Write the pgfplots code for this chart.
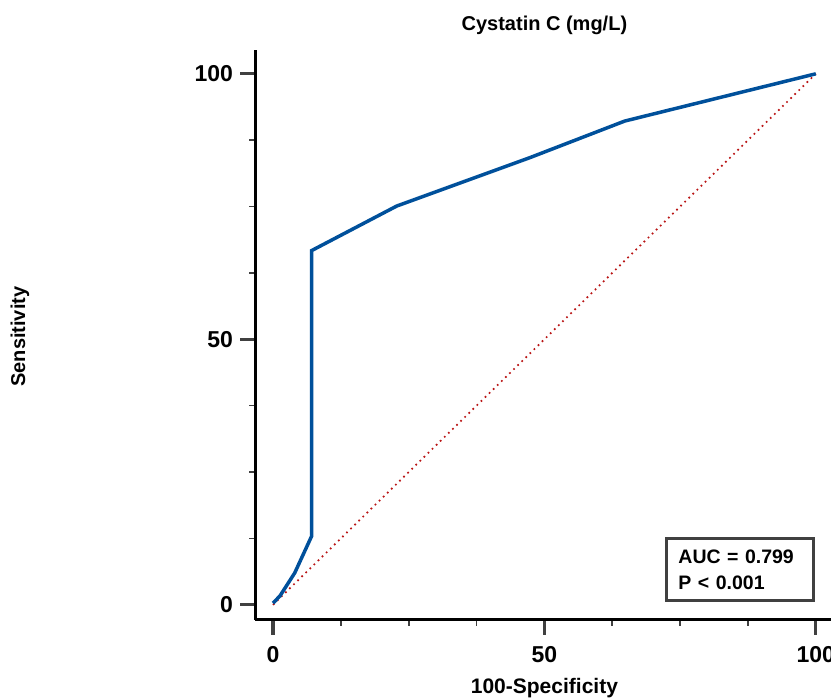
\documentclass[border=0pt]{standalone}
\usepackage{fontspec}
\setmainfont{Liberation Sans}
\usepackage{pgfplots}
\pgfplotsset{compat=1.18}
\definecolor{roc}{RGB}{0,80,155}
\definecolor{diag}{RGB}{185,20,20}
\definecolor{tickgray}{RGB}{64,64,64}
\newcommand{\lab}[1]{\fontsize{#1}{13}\selectfont\bfseries}
\begin{document}
\begin{tikzpicture}
\begin{axis}[
  x=2.714pt, y=2.655pt,
  xmin=-3.3, xmax=102.8, ymin=-2.8, ymax=104.5,
  axis lines*=left,
  axis line style={line width=1.6pt, black},
  xtick={0,50,100}, ytick={0,50,100},
  minor tick num=3,
  tick align=outside,
  major tick length=7.5pt, minor tick length=3pt,
  major tick style={line width=1.6pt, tickgray},
  minor tick style={line width=0.8pt, tickgray},
  ticklabel style={font=\lab{11.5}},
  xticklabel style={yshift=-2.5pt},
  /pgf/number format/assume math mode=true,
  clip=false,
]
% chance line
\addplot[diag, line width=0.85pt, dotted] coordinates {(0,0) (100,100)};
% ROC curve
\addplot[roc, line width=1.75pt] coordinates {
  (0,0.3) (1.3,1.7) (4.0,6.0) (7.1,12.9) (7.1,66.7)
  (22.8,75.1) (47.3,84.2) (64.8,91.1) (100,100)};

\node[font=\lab{10}] at (axis cs:50,109.2) {Cystatin C (mg/L)};
\node[font=\lab{10.5}] at (axis cs:50,-15.6) {100-Specificity};
\node[font=\lab{10}, rotate=90] at (axis cs:-46.6,50.5) {Sensitivity};

\node[draw=tickgray, line width=1.3pt, anchor=south east, fill=white,
      text width=61.5pt, inner xsep=6pt, inner ysep=0pt,
      minimum height=31pt, align=left, font=\lab{9.75}]
  at (axis cs:99.8,0.6) {AUC = 0.799\\P < 0.001};

\coordinate (bbl) at (axis cs:-50.3,-17.9);
\coordinate (btr) at (axis cs:102.8,113.9);
\end{axis}
\pgfresetboundingbox
\path[use as bounding box] (bbl) rectangle (btr);
\end{tikzpicture}
\end{document}
